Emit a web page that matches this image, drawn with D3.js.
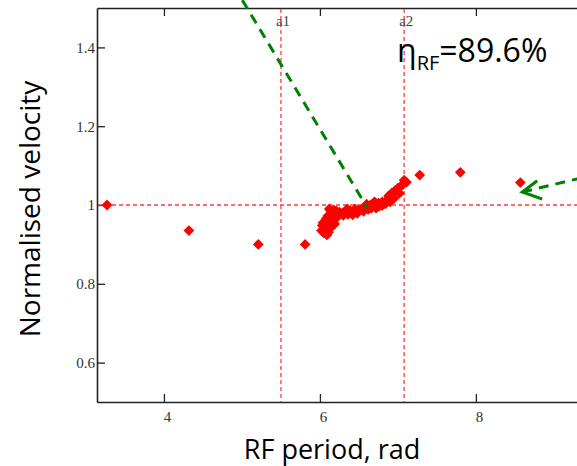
<!DOCTYPE html>
<html>
<head>
<meta charset="utf-8">
<script src="https://cdnjs.cloudflare.com/ajax/libs/d3/7.8.5/d3.min.js"></script>
<style>
body{margin:0;background:#fff;}
svg{display:block;}
</style>
</head>
<body>
<div id="viz"></div>
<script>
// data
var xTicks = [4, 6, 8];
var yTicks = [0.6, 0.8, 1, 1.2, 1.4];
var markers = [{name:'a1', x:5.5}, {name:'a2', x:7.08}];
var level = 1;
// scattered points
var loneX = [3.27, 4.32, 5.21, 5.81, 7.28, 7.80, 8.57];
var loneY = [1.0, 0.935, 0.90, 0.90, 1.076, 1.083, 1.057];
// dense cluster between a1 and a2
var clusterX = [6.05, 6.09, 6.11, 6.02, 6.03, 6.06, 6.10, 6.14, 6.07, 6.11, 6.15, 6.19,
    6.10, 6.14, 6.18, 6.21, 6.14, 6.18, 6.21, 6.25, 6.29, 6.34, 6.39, 6.45, 6.50, 6.55,
    6.60, 6.65, 6.66, 6.70, 6.75, 6.76, 6.80, 6.84, 6.86, 6.88, 6.92, 6.96, 7.00, 7.04,
    7.07, 7.11, 7.08,
    6.30, 6.36, 6.42, 6.48, 6.56, 6.62, 6.72, 6.80, 6.90, 6.95, 7.02, 6.35, 6.45, 6.60,
    6.70, 6.12, 6.08, 6.04, 6.17, 6.24];
var clusterY = [0.929, 0.924, 0.931, 0.935, 0.948, 0.942, 0.944, 0.942, 0.957, 0.959, 0.954, 0.952,
    0.972, 0.975, 0.972, 0.967, 0.985, 0.987, 0.985, 0.982, 0.980, 0.982, 0.985, 0.982, 0.987, 0.992,
    0.997, 1.000, 0.992, 1.000, 1.005, 0.997, 1.008, 1.003, 1.013, 1.023, 1.030, 1.036, 1.043, 1.048,
    1.053, 1.058, 1.063,
    0.974, 0.976, 0.975, 0.979, 0.984, 0.989, 0.992, 0.999, 1.008, 1.017, 1.030, 0.990, 0.990, 1.002,
    1.008, 0.990, 0.965, 0.955, 0.962, 0.975];

var W = 577, H = 466;
var svg = d3.select('#viz').append('svg')
    .attr('width', W)
    .attr('height', H);

var x = d3.scaleLinear().domain([Math.PI, 3 * Math.PI]).range([97, 587]);
var y = d3.scaleLinear().domain([0.5, 1.5]).range([402, 8]);

var points = [];
loneX.forEach(function(d, i){ points.push([d, loneY[i]]); });
clusterX.forEach(function(d, i){ points.push([d, clusterY[i]]); });

////////////////////////////// axes //////////////////////////////
var tickFont = function(g){
    g.selectAll('text')
        .style('font-family', '"Liberation Serif", "DejaVu Serif", serif')
        .style('font-size', '15px')
        .attr('fill', '#333');
    g.selectAll('line').attr('stroke', '#222').attr('stroke-width', 1.3);
    g.select('.domain').attr('stroke', '#222').attr('stroke-width', 1.6);
};

svg.append('g')
    .attr('transform', 'translate(0,' + y(0.5) + ')')
    .call(d3.axisBottom(x).tickValues(xTicks).tickSizeInner(-8).tickSizeOuter(0).tickPadding(9)
        .tickFormat(function(d){ return String(d); }))
    .call(tickFont)
    .selectAll('text').attr('dx', '0.2em');

svg.append('g')
    .attr('transform', 'translate(0,' + y(1.5) + ')')
    .call(d3.axisTop(x).tickValues(xTicks).tickSizeInner(-8).tickSizeOuter(0).tickFormat(''))
    .call(tickFont);

svg.append('g')
    .attr('transform', 'translate(' + x(Math.PI) + ',0)')
    .call(d3.axisLeft(y).tickValues(yTicks).tickSizeInner(-8).tickSizeOuter(0).tickPadding(2)
        .tickFormat(function(d){ return String(d); }))
    .call(tickFont);

////////////////////////////// red guides //////////////////////////////
svg.selectAll('line.marker')
    .data(markers)
    .enter().append('line')
    .attr('class', 'marker')
    .attr('x1', function(d){ return x(d.x); })
    .attr('x2', function(d){ return x(d.x); })
    .attr('y1', y(1.5) + 1)
    .attr('y2', y(0.5))
    .attr('stroke', '#ff3b3b')
    .attr('stroke-width', 1.3)
    .attr('stroke-dasharray', '4,3');

svg.selectAll('text.marker')
    .data(markers)
    .enter().append('text')
    .attr('class', 'marker')
    .attr('x', function(d){ return x(d.x) - 5; })
    .attr('y', 26)
    .style('font-family', '"Liberation Serif", serif')
    .style('font-size', '15px')
    .attr('fill', '#444')
    .text(function(d){ return d.name; });

svg.append('line')
    .attr('x1', x(Math.PI) + 1)
    .attr('x2', W)
    .attr('y1', y(level))
    .attr('y2', y(level))
    .attr('stroke', '#ff3b3b')
    .attr('stroke-width', 1.3)
    .attr('stroke-dasharray', '4,3');

////////////////////////////// points //////////////////////////////
var diamond = d3.symbol().type(d3.symbolSquare).size(58);
svg.selectAll('path.pt')
    .data(points)
    .enter().append('path')
    .attr('class', 'pt')
    .attr('d', diamond)
    .attr('transform', function(d){
        return 'translate(' + x(d[0]) + ',' + y(d[1]) + ') rotate(45)';
    })
    .attr('fill', '#ff0000');

////////////////////////////// green annotations //////////////////////////////
var green = '#008000';
svg.append('line')
    .attr('x1', x(5.005)).attr('y1', y(1.52))
    .attr('x2', x(6.61)).attr('y2', y(0.992))
    .attr('stroke', green)
    .attr('stroke-width', 3)
    .attr('stroke-dasharray', '10,7');

svg.append('line')
    .attr('x1', x(8.595)).attr('y1', y(1.033))
    .attr('x2', x(9.42)).attr('y2', y(1.072))
    .attr('stroke', green)
    .attr('stroke-width', 3)
    .attr('stroke-dasharray', '10,7');

svg.append('path')
    .attr('d', 'M' + x(8.787) + ',' + y(1.0617) + 'L' + x(8.595) + ',' + y(1.033) + 'L' + x(8.851) + ',' + y(1.015))
    .attr('fill', 'none')
    .attr('stroke', green)
    .attr('stroke-width', 3);

////////////////////////////// texts //////////////////////////////
var eta = svg.append('text')
    .attr('x', 397)
    .attr('y', 62)
    .style('font-family', '"Open Sans", sans-serif')
    .style('font-size', '32px')
    .attr('fill', '#000');
eta.append('tspan').text('η');
eta.append('tspan').attr('dy', 8).style('font-size', '20px').text('RF');
eta.append('tspan').attr('dy', -8).text('=89.6%');

svg.append('text')
    .attr('x', 332)
    .attr('y', 459)
    .attr('text-anchor', 'middle')
    .style('font-family', '"Open Sans", sans-serif')
    .style('font-size', '27px')
    .attr('fill', '#000')
    .text('RF period, rad');

svg.append('text')
    .attr('transform', 'translate(40,209) rotate(-90)')
    .attr('text-anchor', 'middle')
    .style('font-family', '"Open Sans", sans-serif')
    .style('font-size', '28px')
    .attr('fill', '#000')
    .text('Normalised velocity');
</script>
</body>
</html>
